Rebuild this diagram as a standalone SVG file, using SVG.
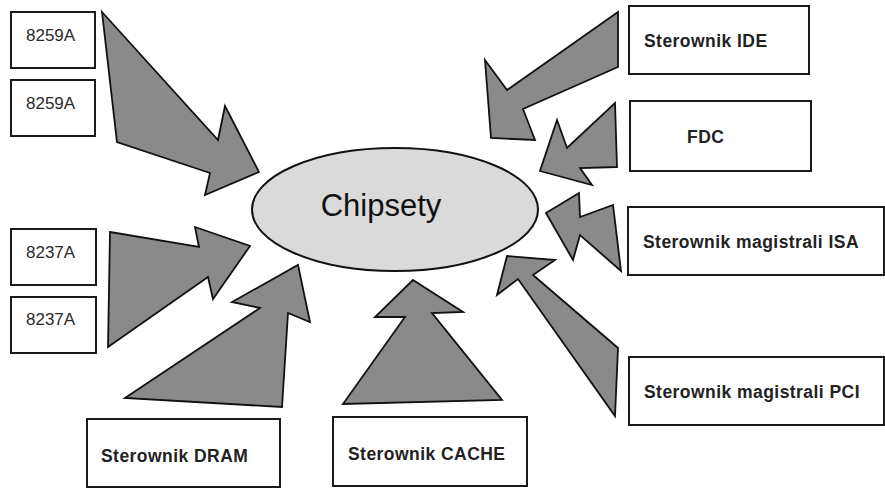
<svg xmlns="http://www.w3.org/2000/svg" width="885" height="488" viewBox="0 0 885 488">
<style>
.box{fill:#fff;stroke:#1a1a1a;stroke-width:2}
.arr{fill:#8a8a8a;stroke:#111;stroke-width:1.8;stroke-linejoin:miter}
.t{font-family:"Liberation Sans",Arial,sans-serif;font-size:17px;fill:#2a2a2a}
.b{font-family:"Liberation Sans",Arial,sans-serif;font-size:17.5px;font-weight:bold;fill:#222;letter-spacing:0.45px}
.c{font-family:"Liberation Sans",Arial,sans-serif;font-size:31px;fill:#111}
</style>
<rect width="885" height="488" fill="#fff"/>
<g id="connectors">
<polygon class="arr" points="102,12 218,140 225,106 259,172 205,195 210,173 117,142"/>
<polygon class="arr" points="110,232 199,247 195,227 250,246 213,299 208,277 108,347"/>
<polygon class="arr" points="298,265 310,322 288,313 282,407 125,398 260,308 232,302"/>
<polygon class="arr" points="413,280 463,312 432,313 502,400 343,404 405,317 375,317"/>
<polygon class="arr" points="618,12 618,67 523,109 535,140 491,138 485,60 507,90"/>
<polygon class="arr" points="615,103 617,167 580,168 592,185 540,171 557,120 567,148"/>
<polygon class="arr" points="546,213 579,193 580,217 613,205 621,271 580,235 573,260"/>
<polygon class="arr" points="497,295 507,256 555,260 533,275 618,348 615,416 518,279"/>
</g>
<g id="chipsety">
<ellipse cx="395" cy="209.5" rx="143" ry="61.5" fill="#dadada" stroke="#111" stroke-width="2"/>
<text class="c" x="381" y="216" text-anchor="middle">Chipsety</text>
</g>
<g id="n8259a1"><rect class="box" x="11" y="12" width="84" height="56"/><text class="t" x="26" y="41">8259A</text></g>
<g id="n8259a2"><rect class="box" x="11" y="80" width="84" height="56"/><text class="t" x="26" y="109">8259A</text></g>
<g id="n8237a1"><rect class="box" x="11" y="229" width="85" height="56"/><text class="t" x="26" y="258">8237A</text></g>
<g id="n8237a2"><rect class="box" x="11" y="297" width="85" height="56"/><text class="t" x="26" y="325">8237A</text></g>
<g id="dram"><rect class="box" x="87" y="419" width="193" height="68"/><text class="b" x="101" y="462">Sterownik DRAM</text></g>
<g id="cache"><rect class="box" x="333" y="417" width="194" height="69"/><text class="b" x="348" y="460">Sterownik CACHE</text></g>
<g id="ide"><rect class="box" x="629" y="6" width="180" height="68"/><text class="b" x="644" y="47">Sterownik IDE</text></g>
<g id="fdc"><rect class="box" x="630" y="101" width="181" height="70"/><text class="b" x="687" y="143">FDC</text></g>
<g id="isa"><rect class="box" x="628" y="207" width="256" height="68"/><text class="b" x="643" y="248">Sterownik magistrali ISA</text></g>
<g id="pci"><rect class="box" x="629" y="357" width="255" height="68"/><text class="b" x="644" y="398">Sterownik magistrali PCI</text></g>
</svg>
